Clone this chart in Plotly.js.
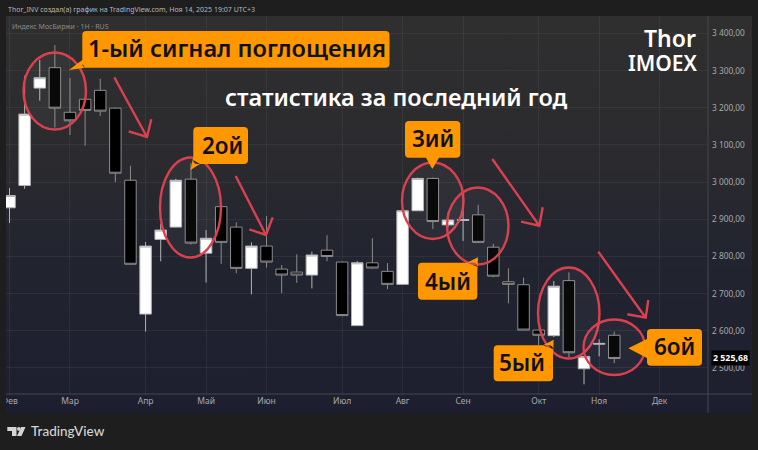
<!DOCTYPE html>
<html><head><meta charset="utf-8">
<script src="https://cdn.plot.ly/plotly-3.0.1.min.js"></script>
<style>
html,body{margin:0;padding:0;background:#1e1e1e;width:758px;height:450px;overflow:hidden}
#panel{position:absolute;left:6px;top:16px;width:746px;height:397px;background:linear-gradient(180deg,#2f2f2f 0%,#2b2b2f 35%,#22242f 60%,#1d1f30 100%)}
#chart{position:absolute;left:0;top:0;width:758px;height:450px}
</style></head><body>
<div id="panel"></div><div id="chart"></div>
<script>
const weeks=['2025-02-03','2025-02-10','2025-02-17','2025-02-24','2025-03-03','2025-03-10','2025-03-17','2025-03-24','2025-03-31','2025-04-07','2025-04-14','2025-04-21','2025-04-28','2025-05-05','2025-05-12','2025-05-19','2025-05-26','2025-06-02','2025-06-09','2025-06-16','2025-06-23','2025-06-30','2025-07-07','2025-07-14','2025-07-21','2025-07-28','2025-08-04','2025-08-11','2025-08-18','2025-08-25','2025-09-01','2025-09-08','2025-09-15','2025-09-22','2025-09-29','2025-10-06','2025-10-13','2025-10-20','2025-10-27','2025-11-03','2025-11-10'];
const opens =[2931,2991,3253,3308,3188,3223,3247,3199,3005,2645,2846,2879,3008,2809,2934,2879,2768,2828,2766,2758,2750,2817,2785,2614,2783,2760,2725,2923,3010,2885,2897,2912,2825,2732,2724,2602,2587,2735,2498,2564,2588];
const highs =[2984,3286,3329,3369,3280,3229,3278,3201,3044,2839,2889,3009,3051,2871,2936,2892,2838,2909,2777,2806,2813,2857,2786,2788,2849,2782,2925,3012,3012,2918,2923,2939,2834,2768,2743,2603,2734,2757,2531,2577,2598];
const lows  =[2890,2982,3219,3147,3127,3098,3178,3000,2777,2598,2787,2878,2832,2730,2780,2755,2698,2770,2701,2729,2714,2787,2639,2614,2767,2712,2725,2923,2874,2878,2842,2836,2744,2674,2601,2562,2583,2529,2456,2531,2513];
const closes=[2964,3183,3281,3199,3165,3193,3191,3024,2779,2828,2871,3005,2836,2849,2838,2768,2828,2785,2750,2750,2804,2800,2641,2783,2769,2725,2923,3010,2894,2898,2899,2838,2747,2725,2602,2588,2720,2541,2531,2566,2525.68];
const monthTicks=['2025-02-03','2025-03-03','2025-04-07','2025-05-05','2025-06-02','2025-07-07','2025-08-04','2025-09-01','2025-10-06','2025-11-03','2025-12-01'];
const monthLabels=['Фев','Мар','Апр','Май','Июн','Июл','Авг','Сен','Окт','Ноя','Дек'];
const priceTicks=[2500,2600,2700,2800,2900,3000,3100,3200,3300,3400];
const priceLabels=['2 500,00','2 600,00','2 700,00','2 800,00','2 900,00','3 000,00','3 100,00','3 200,00','3 300,00','3 400,00'];
const lastPrice=2525.68, lastPriceLabel='2 525,68';

const L=6,R=708,T=16,B=394;
const px=x=>((x-L)/(R-L)).toFixed(5), py=y=>((B-y)/(B-T)).toFixed(5);
const P=(x,y)=>px(x)+','+py(y);
const RED='#d9414f', OR='#ff9800';
const font='"Noto Sans",sans-serif', big='"Noto Sans",sans-serif';
const shapes=[];
function ell(x0,x1,y0,y1){shapes.push({type:'circle',xref:'paper',yref:'paper',x0:px(x0),x1:px(x1),y0:py(y0),y1:py(y1),line:{color:RED,width:2.4},fillcolor:'rgba(255,255,255,0.035)',layer:'above'});}
function arrow(x0,y0,x1,y1,a,b,c,d){
  shapes.push({type:'path',xref:'paper',yref:'paper',path:`M${P(x0,y0)} L${P(x1,y1)} M${P(a,b)} L${P(x1,y1)} L${P(c,d)}`,line:{color:RED,width:2.4},layer:'above'});
}
function box(x0,y0,x1,y1,tail){
  const r=4;
  let p=`M${P(x0+r,y0)} `;
  if(tail&&tail.side==='top') p+=tail.pts.map(q=>'L'+P(q[0],q[1])).join(' ')+' ';
  p+=`L${P(x1-r,y0)} Q${P(x1,y0)} ${P(x1,y0+r)} `;
  if(tail&&tail.side==='right') p+=tail.pts.map(q=>'L'+P(q[0],q[1])).join(' ')+' ';
  p+=`L${P(x1,y1-r)} Q${P(x1,y1)} ${P(x1-r,y1)} `;
  if(tail&&tail.side==='bottom') p+=tail.pts.map(q=>'L'+P(q[0],q[1])).join(' ')+' ';
  p+=`L${P(x0+r,y1)} Q${P(x0,y1)} ${P(x0,y1-r)} `;
  if(tail&&tail.side==='left') p+=tail.pts.map(q=>'L'+P(q[0],q[1])).join(' ')+' ';
  p+=`L${P(x0,y0+r)} Q${P(x0,y0)} ${P(x0+r,y0)} Z`;
  shapes.push({type:'path',xref:'paper',yref:'paper',path:p,fillcolor:OR,line:{width:0},layer:'above'});
}
ell(23.5,86,52.5,129.5); ell(160,221,157.5,257.5); ell(402,463.5,162.5,239); ell(447,508.5,187.5,264.5); ell(538,599.5,267.5,358.5); ell(583.5,645,319.5,375);
arrow(114.3,77.3,147,137,128.7,131.3,151.3,119.3);
arrow(235.7,176,266,235,249.3,229.3,272.7,217.3);
arrow(492.3,159,539.3,225.7,521,221.7,542.7,207.3);
arrow(598.3,251.7,645.7,317.7,627.3,314.3,648.3,300);
box(82.3,31,389.5,67.7,{side:'left',pts:[[85,67.7],[69,70],[82.3,60]]});
box(193.3,127,248,164,{side:'left',pts:[[200,164],[190.5,170],[193.3,157]]});
box(405,121,460.3,157.7,{side:'bottom',pts:[[439,157.7],[432.3,169],[426,157.7]]});
box(418,262.7,477.3,299.7,{side:'right',pts:[[467,262.7],[478,257.3],[477.3,273]]});
box(493.7,345.3,553,381.3,{side:'right',pts:[[543,345.3],[553.7,339.7],[553,356]]});
box(647,329,702,365.7,{side:'left',pts:[[647,358],[628.3,348.3],[647,339]]});
shapes.push({type:'line',xref:'paper',yref:'paper',x0:1,x1:1,y0:py(413),y1:py(16),line:{color:'#44464f',width:1},layer:'above'});
shapes.push({type:'line',xref:'paper',yref:'paper',x0:0,x1:px(752),y0:0,y1:0,line:{color:'#44464f',width:1},layer:'above'});
shapes.push({type:'rect',xref:'paper',yref:'paper',x0:px(0),x1:px(6),y0:py(394.5),y1:py(414),fillcolor:'#1e1e1e',line:{width:0},layer:'above'});
shapes.push({type:'path',xref:'paper',yref:'paper',path:`M${P(7.3,427)} L${P(16.5,427)} L${P(16.5,436)} L${P(12,436)} L${P(12,431)} L${P(7.3,431)} Z M${P(21.2,427)} L${P(25.5,427)} L${P(21.5,436)} L${P(17,436)} Z`,fillcolor:'#d4d4d4',line:{width:0},layer:'above'});
shapes.push({type:'circle',xref:'paper',yref:'paper',x0:px(17),x1:px(20.8),y0:py(427),y1:py(430.8),fillcolor:'#d4d4d4',line:{width:0},layer:'above'});

function label(x,y,text,size,color,xanchor,weight,fam){
  return {xref:'paper',yref:'paper',x:px(x),y:py(y),text,showarrow:false,xanchor:xanchor||'center',yanchor:'middle',borderpad:0,font:{family:fam||font,size,color,weight:weight||400}};
}
const annotations=[
 label(7,9.5,'Thor_INV создал(а) график на TradingView.com, Ноя 14, 2025 19:07 UTC+3',7,'#b8b8b8','left'),
 label(11,26,'Индекс МосБиржи · 1Н · RUS',7,'#8c8c8c','left'),
 label(237,48,'1-ый сигнал поглощения',23.6,'#111','center',600,big),
 label(222.5,145,'2ой',22.5,'#111','center',600,big),
 label(433,138.5,'3ий',22.5,'#111','center',600,big),
 label(447.5,281,'4ый',22.5,'#111','center',600,big),
 label(522.5,362.5,'5ый',22.5,'#111','center',600,big),
 label(675,346.5,'6ой',22.5,'#111','center',600,big),
 label(396,97,'статистика за последний год',23.5,'#ffffff','center',600,big),
 label(697,38.5,'Thor',23,'#ffffff','right',600,big),
 label(699,62.5,'IMOEX',21,'#ffffff','right',600,big),
 label(30,431,'TradingView',13.5,'#d4d4d4','left',500,'Lato,"Noto Sans",sans-serif'),
 {xref:'paper',yref:'y',x:px(730),y:lastPrice,text:'<b>'+lastPriceLabel+'</b>',showarrow:false,xanchor:'center',yanchor:'middle',bgcolor:'#000',borderpad:1,font:{family:font,size:8.8,color:'#fff'}}
];

const trace={type:'candlestick',x:weeks,open:opens,high:highs,low:lows,close:closes,
 increasing:{line:{color:'#b4b4b4',width:1},fillcolor:'#ffffff'},
 decreasing:{line:{color:'#8c8c8c',width:1},fillcolor:'#000000'},
 whiskerwidth:0,hoverinfo:'skip',showlegend:false};
const gridc='rgba(255,255,255,0.055)';
Plotly.newPlot('chart',[trace],{
 width:758,height:450,margin:{l:L,r:758-R,t:T,b:450-B,pad:0},autosize:false,
 paper_bgcolor:'rgba(0,0,0,0)',plot_bgcolor:'rgba(0,0,0,0)',showlegend:false,boxgap:0.24,boxgroupgap:0,boxmode:'overlay',
 xaxis:{type:'date',range:['2025-02-01 09:00','2025-12-23 09:36'],rangeslider:{visible:false},tickmode:'array',tickvals:monthTicks,ticktext:monthLabels,ticks:'',ticklabeloverflow:'allow',showgrid:true,gridcolor:gridc,gridwidth:1,zeroline:false,showline:false,tickfont:{family:font,size:8.5,color:'#a8a8a8'}},
 yaxis:{side:'right',range:[2430,3447],tickmode:'array',tickvals:priceTicks,ticktext:priceLabels,ticks:'',ticklabelstandoff:3,showgrid:true,gridcolor:gridc,gridwidth:1,zeroline:false,showline:false,tickfont:{family:font,size:8.3,color:'#a8a8a8'}},
 shapes,annotations
},{staticPlot:true,displayModeBar:false});
</script></body></html>
